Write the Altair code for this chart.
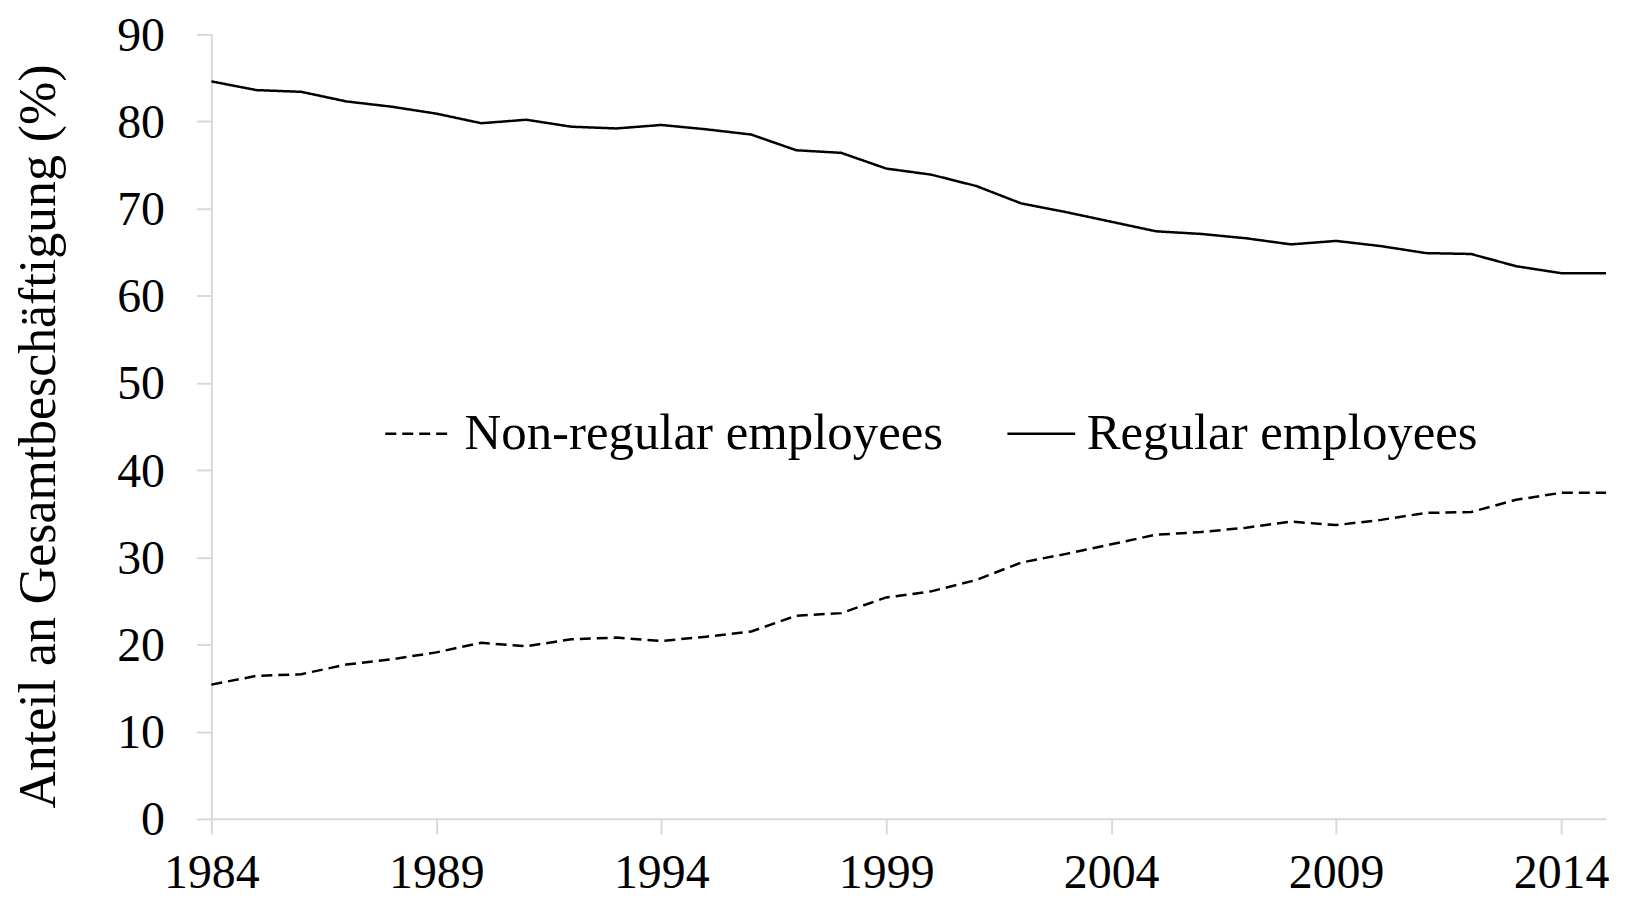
import altair as alt
import pandas as pd

years = list(range(1984, 2016))
regular = [84.6, 83.6, 83.4, 82.3, 81.7, 80.9, 79.8, 80.2, 79.4, 79.2, 79.6, 79.1,
           78.5, 76.7, 76.4, 74.6, 73.9, 72.6, 70.6, 69.6, 68.5, 67.4, 67.1, 66.6,
           65.9, 66.3, 65.7, 64.9, 64.8, 63.4, 62.6, 62.6]
non_regular = [15.4, 16.4, 16.6, 17.7, 18.3, 19.1, 20.2, 19.8, 20.6, 20.8, 20.4, 20.9,
               21.5, 23.3, 23.6, 25.4, 26.1, 27.4, 29.4, 30.4, 31.5, 32.6, 32.9, 33.4,
               34.1, 33.7, 34.3, 35.1, 35.2, 36.6, 37.4, 37.4]
series_names = ["Non-regular employees", "Regular employees"]
x_ticks = [1984, 1989, 1994, 1999, 2004, 2009, 2014]
y_ticks = [0, 10, 20, 30, 40, 50, 60, 70, 80, 90]

rows = []
for name, vals in zip(series_names, [non_regular, regular]):
    for yr, v in zip(years, vals):
        rows.append({"year": yr, "value": v, "series": name})
df = pd.DataFrame(rows)

FONT = "Liberation Serif"
GRAY = "#d9d9d9"

chart = alt.Chart(df).mark_line(color="black", strokeWidth=2.5).encode(
    x=alt.X("year:Q",
            scale=alt.Scale(domain=[1984, 2015], nice=False, zero=False),
            axis=alt.Axis(values=x_ticks, format="d", title=None, grid=False,
                          domainColor=GRAY, domainWidth=2, tickColor=GRAY, tickWidth=2,
                          tickSize=15, labelPadding=16, labelFontSize=48, labelFont=FONT,
                          labelColor="black", labelFlush=False, labelOverlap=False)),
    y=alt.Y("value:Q",
            scale=alt.Scale(domain=[0, 90], nice=False),
            axis=alt.Axis(values=y_ticks, title="Anteil an Gesamtbeschäftigung (%)", grid=False,
                          domainColor=GRAY, domainWidth=2, tickColor=GRAY, tickWidth=2,
                          tickSize=15, labelPadding=32, labelFontSize=48, labelFont=FONT,
                          labelOffset=2,
                          labelColor="black", titleFont=FONT, titleFontSize=52,
                          titleFontWeight="normal", titleColor="black",
                          titleAngle=270, titleX=-173, titleY=403,
                          titleBaseline="middle", titleAlign="center")),
    strokeDash=alt.StrokeDash("series:N",
                              scale=alt.Scale(domain=series_names, range=[[11, 6], [1, 0]]),
                              legend=alt.Legend(title=None, orient="none", legendX=173, legendY=365,
                                                direction="horizontal", symbolType="stroke",
                                                symbolSize=4624, symbolStrokeWidth=2.5,
                                                symbolStrokeColor="black",
                                                labelFont=FONT, labelFontSize=51,
                                                labelColor="black", labelLimit=1000,
                                                labelOffset=10, columnPadding=58, padding=0)),
).properties(
    width=1399,
    height=787,
    autosize=alt.AutoSizeParams(type="none"),
    padding={"left": 204, "top": 25, "right": 16, "bottom": 81},
).configure_view(stroke=None)

chart.save("out.html", embed_options={"renderer": "svg", "actions": False})
